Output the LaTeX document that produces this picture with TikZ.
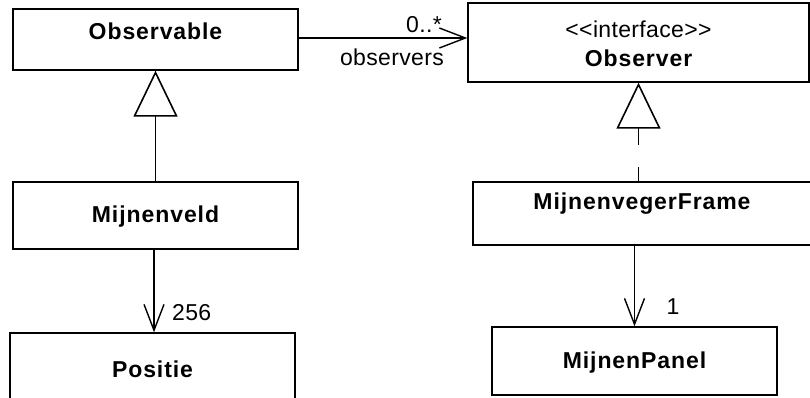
\documentclass[tikz,border=0pt]{standalone}
\usepackage{fontspec}
\setmainfont{Liberation Sans}
\newfontfamily\clsfont[LetterSpace=4]{Liberation Sans}
\newfontfamily\lblfont[LetterSpace=1.5]{Liberation Sans}
\usetikzlibrary{arrows.meta}

\tikzset{
  cls/.style={draw, line width=1.4pt, rectangle, inner sep=0pt, fill=white},
  clsname/.style={font=\clsfont\bfseries\fontsize{23}{25}\selectfont, inner sep=0pt},
  lbl/.style={font=\lblfont\fontsize{23}{25}\selectfont, inner sep=0pt},
  assoc/.style={line width=1.4pt, -{Straight Barb[length=26pt, width=20pt, line width=1.4pt]}},
  inherit/.style={line width=1.4pt, -{Triangle[open, length=46pt, width=44pt, line width=1.6pt, fill=white]}}
}

\begin{document}
\begin{tikzpicture}[x=1pt, y=-1pt]
  \useasboundingbox (0,0) rectangle (810,398);

  % class boxes
  \node[cls, minimum width=285pt, minimum height=61pt] (obs) at (155.5,39.5) {};
  \node[cls, minimum width=341pt, minimum height=79pt] (obr) at (638.5,42.5) {};
  \node[cls, minimum width=285pt, minimum height=67pt] (mv)  at (155.5,215.5) {};
  \node[cls, minimum width=285pt, minimum height=90pt] (pos) at (152.5,378) {};
  \node[cls, minimum width=342pt, minimum height=63pt] (mvf) at (644,213.5) {};
  \node[cls, minimum width=285pt, minimum height=68pt] (pnl) at (634.5,361) {};

  % class names
  \node[clsname] (obs-t) at (155.5,31) {Observable};
  \node[lbl]     (obr-s) at (638.5,29) {<<interface>>};
  \node[clsname] (obr-t) at (638.5,58) {Observer};
  \node[clsname] (mv-t)  at (155.5,217) {Mijnenveld};
  \node[clsname] (pos-t) at (152.5,369) {Positie};
  \node[clsname] (mvf-t) at (642,204) {MijnenvegerFrame};
  \node[clsname] (pnl-t) at (634.5,363) {MijnenPanel};

  % association Observable -> Observer
  \draw[assoc] (obs.east |- 0,38) -- (obr.west |- 0,38);
  \node[lbl, anchor=east] (mult1) at (442,25) {0..*};
  \node[lbl] (role1) at (392,57) {observers};

  % generalisation Mijnenveld -> Observable
  \draw[inherit] (mv.north) -- (obs.south);

  % realisation MijnenvegerFrame -> Observer
  \draw[inherit, dash pattern=on 14pt off 22pt on 60pt] (obr.south |- mvf.north) -- (obr.south);

  % association Mijnenveld -> Positie
  \draw[assoc] (mv.south -| 154,0) -- (pos.north -| 154,0);
  \node[lbl, anchor=west] (mult2) at (172,313) {256};

  % association MijnenvegerFrame -> MijnenPanel
  \draw[assoc] (pnl.north |- mvf.south) -- (pnl.north);
  \node[lbl] (mult3) at (673,307) {1};
\end{tikzpicture}
\end{document}
